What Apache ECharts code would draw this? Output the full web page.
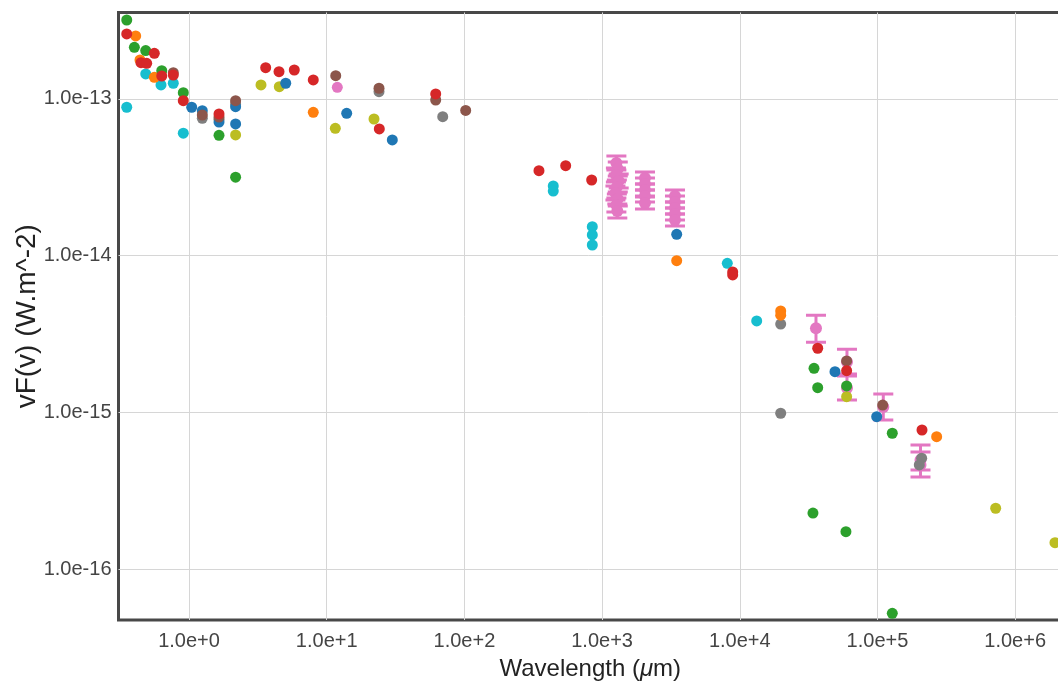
<!DOCTYPE html>
<html><head><meta charset="utf-8">
<script src="https://cdn.jsdelivr.net/npm/echarts@6/dist/echarts.min.js"></script>
<style>html,body{margin:0;padding:0;background:#fff;overflow:hidden}#c{width:1058px;height:686px}</style>
</head><body><div id="c"></div>
<script>
// ---- data (wavelength in µm, vF(v) in W.m^-2) ----
const xRange = [0.3076, 2.188e6];
const yRange = [4.74e-17, 3.55e-13];

const greenX = [0.353, 0.401, 0.485, 0.634, 0.909, 1.652, 2.18, 34600, 36800, 59700, 128100, 34000, 59000, 128100];
const greenY = [3.18e-13, 2.13e-13, 2.03e-13, 1.51e-13, 1.094e-13, 5.85e-14, 3.16e-14, 1.91e-15, 1.437e-15, 1.474e-15, 7.36e-16, 2.28e-16, 1.735e-16, 5.23e-17];

const redX = [0.353, 0.56, 0.448, 0.493, 0.634, 0.769, 0.909, 1.652, 3.605, 4.505, 5.816, 7.99, 24.1, 61.9, 348, 544, 840, 8880, 8880, 36800, 59700, 210500];
const redY = [2.59e-13, 1.95e-13, 1.70e-13, 1.684e-13, 1.397e-13, 1.418e-13, 9.72e-14, 8.0e-14, 1.579e-13, 1.489e-13, 1.526e-13, 1.318e-13, 6.42e-14, 1.073e-13, 3.48e-14, 3.745e-14, 3.034e-14, 7.86e-15, 7.52e-15, 2.564e-15, 1.845e-15, 7.72e-16];

const orangeX = [0.41, 0.4406, 0.56, 7.99, 3482, 19820, 19820, 269000];
const orangeY = [2.515e-13, 1.768e-13, 1.371e-13, 8.2e-14, 9.28e-15, 4.43e-15, 4.17e-15, 7.0e-16];

const cyanX = [0.353, 0.485, 0.626, 0.769, 0.909, 442, 442, 849, 849, 849, 8115, 13270];
const cyanY = [8.83e-14, 1.44e-13, 1.225e-13, 1.256e-13, 6.03e-14, 2.78e-14, 2.58e-14, 1.528e-14, 1.353e-14, 1.168e-14, 8.93e-15, 3.83e-15];

const blueX = [1.046, 1.249, 1.652, 2.18, 2.18, 5.04, 13.97, 29.95, 3482, 49130, 98700];
const blueY = [8.83e-14, 8.4e-14, 7.1e-14, 8.91e-14, 6.91e-14, 1.256e-13, 8.08e-14, 5.46e-14, 1.367e-14, 1.818e-15, 9.39e-16];

const brownX = [0.769, 1.249, 1.652, 2.18, 11.63, 23.98, 61.9, 102.2, 59700, 109100];
const brownY = [1.467e-13, 7.88e-14, 7.65e-14, 9.72e-14, 1.404e-13, 1.167e-13, 9.82e-14, 8.42e-14, 2.127e-15, 1.114e-15];

const grayX = [1.249, 1.652, 2.18, 23.98, 69.6, 19820, 19820, 209400, 201200];
const grayY = [7.51e-14, 7.4e-14, 9.27e-14, 1.11e-13, 7.69e-14, 3.66e-15, 9.87e-16, 5.1e-16, 4.62e-16];

const oliveX = [2.18, 3.333, 4.527, 11.55, 22.06, 59700, 721800, 1945000];
const oliveY = [5.88e-14, 1.225e-13, 1.195e-13, 6.48e-14, 7.43e-14, 1.259e-15, 2.446e-16, 1.476e-16];

const pinkX = [11.94];
const pinkY = [1.184e-13];

// pink measurements with error bars
const pinkErrX = [1270, 1300, 1260, 1320, 1280, 1250, 1300, 1270, 1290,
                  2049, 2049, 2049, 2049, 2049,
                  3384, 3384, 3384, 3384, 3384,
                  35760, 60050, 60050, 110200, 205300, 205300];
const pinkErrY = [3.897e-14, 3.567e-14, 3.266e-14, 2.99e-14, 2.739e-14, 2.508e-14, 2.296e-14, 2.102e-14, 1.925e-14,
                  3.125e-14, 2.862e-14, 2.62e-14, 2.399e-14, 2.165e-14,
                  2.399e-14, 2.197e-14, 2.012e-14, 1.842e-14, 1.687e-14,
                  3.44e-15, 2.096e-15, 1.431e-15, 1.082e-15, 4.97e-16, 4.62e-16];
const pinkErrLow = [3.517e-14, 3.219e-14, 2.948e-14, 2.699e-14, 2.472e-14, 2.264e-14, 2.072e-14, 1.897e-14, 1.737e-14,
                    2.862e-14, 2.621e-14, 2.399e-14, 2.197e-14, 1.983e-14,
                    2.197e-14, 2.012e-14, 1.842e-14, 1.687e-14, 1.545e-14,
                    2.80e-15, 1.757e-15, 1.2e-15, 8.94e-16, 4.29e-16, 3.87e-16];
const pinkErrHigh = [4.318e-14, 3.952e-14, 3.619e-14, 3.313e-14, 3.035e-14, 2.779e-14, 2.544e-14, 2.329e-14, 2.133e-14,
                     3.413e-14, 3.125e-14, 2.861e-14, 2.62e-14, 2.364e-14,
                     2.62e-14, 2.399e-14, 2.197e-14, 2.011e-14, 1.842e-14,
                     4.17e-15, 2.527e-15, 1.706e-15, 1.31e-15, 6.19e-16, 5.59e-16];

const colors = {
  blue: '#1f77b4', orange: '#ff7f0e', green: '#2ca02c', red: '#d62728',
  brown: '#8c564b', pink: '#e377c2', gray: '#7f7f7f', olive: '#bcbd22', cyan: '#17becf'
};

function zip(xs, ys) { return xs.map((x, i) => [x, ys[i]]); }

const scatterDefs = [
  ['pink', pinkX, pinkY],
  ['cyan', cyanX, cyanY],
  ['olive', oliveX, oliveY],
  ['gray', grayX, grayY],
  ['blue', blueX, blueY],
  ['orange', orangeX, orangeY],
  ['green', greenX, greenY],
  ['brown', brownX, brownY],
  ['red', redX, redY]
];

const series = [];
// error bars
series.push({
  name: 'pink-err', type: 'custom', clip: true, z: 1,
  data: pinkErrX.map((x, i) => [x, pinkErrLow[i], pinkErrHigh[i]]),
  encode: { x: 0, y: [1, 2] },
  renderItem: function (params, api) {
    const x = api.value(0);
    const pHi = api.coord([x, api.value(2)]);
    const pLo = api.coord([x, api.value(1)]);
    const w = 10;
    const st = { stroke: colors.pink, lineWidth: 3 };
    return { type: 'group', children: [
      { type: 'line', shape: { x1: pHi[0], y1: pHi[1], x2: pLo[0], y2: pLo[1] }, style: st },
      { type: 'line', shape: { x1: pHi[0] - w, y1: pHi[1], x2: pHi[0] + w, y2: pHi[1] }, style: st },
      { type: 'line', shape: { x1: pLo[0] - w, y1: pLo[1], x2: pLo[0] + w, y2: pLo[1] }, style: st }
    ]};
  }
});
series.push({
  name: 'pink-err-pts', type: 'scatter', symbolSize: 12, z: 2,
  itemStyle: { color: colors.pink, opacity: 1 },
  data: zip(pinkErrX, pinkErrY)
});
scatterDefs.forEach(([name, xs, ys]) => {
  series.push({
    name: name, type: 'scatter', symbolSize: 11, z: 3,
    itemStyle: { color: colors[name], opacity: 1 },
    data: zip(xs, ys)
  });
});

const labelFmt = v => {
  const l = Math.log10(v);
  if (Math.abs(l - Math.round(l)) > 1e-6) return '';
  return Math.pow(10, Math.round(l)).toExponential(1);
};

const chart = echarts.init(document.getElementById('c'), null, { renderer: 'canvas' });
chart.setOption({
  animation: false,
  backgroundColor: '#fff',
  grid: { left: 118.5, width: 943.5, top: 12.5, height: 607.5, show: true, borderColor: '#484848', borderWidth: 3,
          containLabel: false, outerBoundsMode: 'none' },
  xAxis: {
    type: 'log', logBase: 10, min: xRange[0], max: xRange[1],
    name: '{t|Wavelength (}{i|μ}{t|m)}', nameLocation: 'middle', nameGap: 37,
    nameTextStyle: { rich: {
      t: { fontFamily: 'Liberation Sans', fontSize: 24, color: '#222' },
      i: { fontFamily: 'Liberation Sans', fontSize: 24, color: '#222', fontStyle: 'italic' }
    }},
    axisLine: { show: false }, axisTick: { show: false },
    axisLabel: { formatter: labelFmt, interval: 0, showMinLabel: false, showMaxLabel: false,
      fontFamily: 'Liberation Sans', fontSize: 20, color: '#444', margin: 11 },
    splitLine: { show: true, showMinLine: false, showMaxLine: false, lineStyle: { color: '#d6d6d6', width: 1 } }
  },
  yAxis: {
    type: 'log', logBase: 10, min: yRange[0], max: yRange[1],
    name: 'vF(v) (W.m^-2)', nameLocation: 'middle', nameGap: 77, nameRotate: 90, nameMoveOverlap: false,
    nameTextStyle: { fontFamily: 'Liberation Sans', fontSize: 28, color: '#222' },
    axisLine: { show: false }, axisTick: { show: false },
    axisLabel: { formatter: labelFmt, interval: 0, showMinLabel: false, showMaxLabel: false,
      fontFamily: 'Liberation Sans', fontSize: 20, color: '#444', margin: 7 },
    splitLine: { show: true, showMinLine: false, showMaxLine: false, lineStyle: { color: '#d6d6d6', width: 1 } }
  },
  series: series
});
</script>
</body></html>
